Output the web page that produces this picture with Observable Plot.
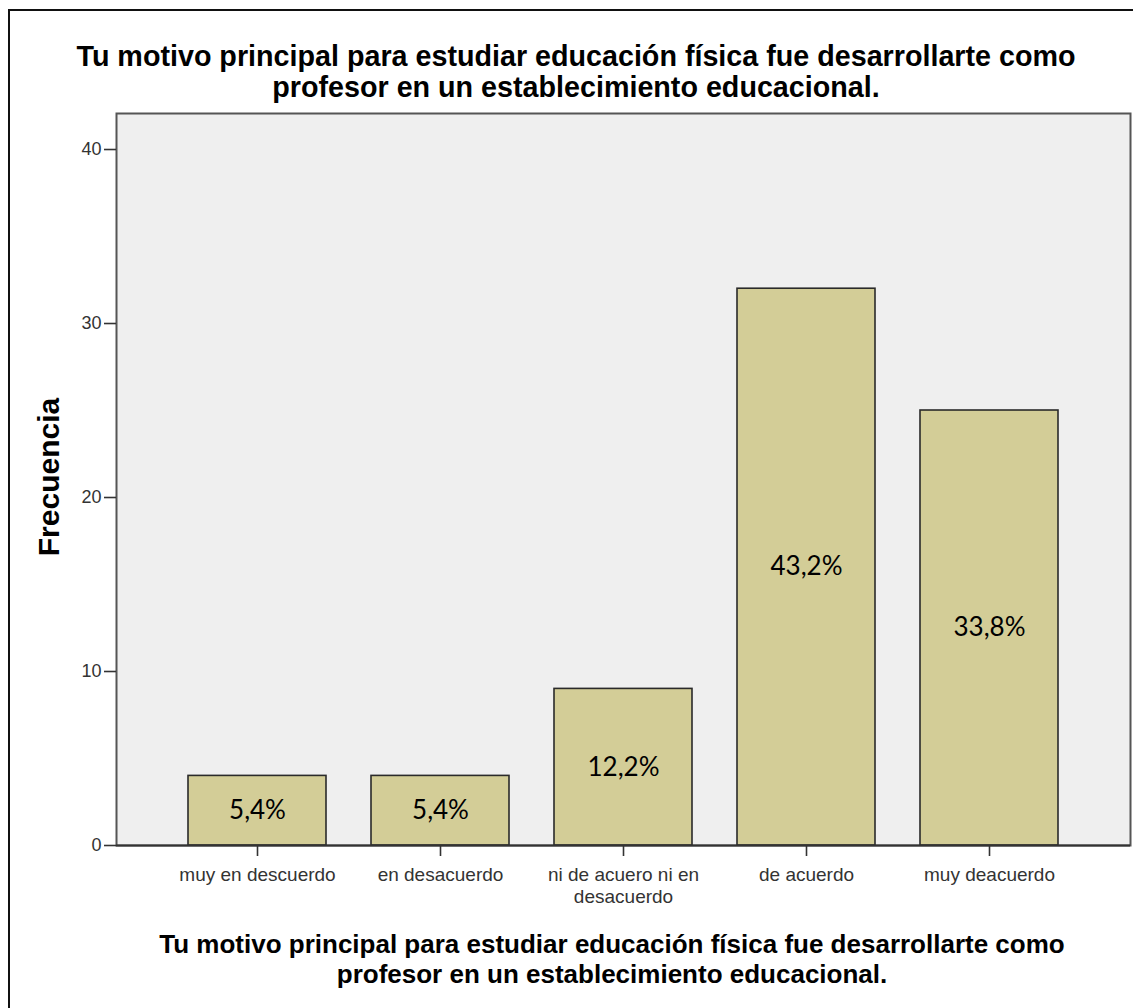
<!DOCTYPE html>
<html>
<head>
<meta charset="utf-8">
<script src="https://cdn.jsdelivr.net/npm/d3@7"></script>
<script src="https://cdn.jsdelivr.net/npm/@observablehq/plot@0.6"></script>
<style>
  html, body { margin: 0; padding: 0; background: #fff; overflow: hidden; }
  body { width: 1133px; height: 1008px; position: relative; }
  #frame { position: absolute; left: 8px; top: 9px; width: 2000px; height: 2000px; border: 2px solid #111; box-sizing: border-box; }
  #chart { position: absolute; left: 0; top: 0; }
  .title { position: absolute; text-align: center; font-family: "Liberation Sans", Arial, sans-serif; font-weight: bold; color: #000; white-space: nowrap; }
  #title { left: 0; width: 1152px; top: 41px; font-size: 28.7px; line-height: 31px; }
  #xtitle { left: 0; width: 1224px; top: 929px; font-size: 26px; line-height: 30px; }
  #ytitle { position: absolute; left: 49px; top: 477px; transform: translate(-50%, -50%) rotate(-90deg); font-family: "Liberation Sans", Arial, sans-serif; font-weight: bold; font-size: 30px; white-space: nowrap; color: #000; }
</style>
</head>
<body>
<div id="frame"></div>
<div id="chart"></div>
<div id="title" class="title"></div>
<div id="xtitle" class="title"></div>
<div id="ytitle"></div>
<script>
const titleLines = ["Tu motivo principal para estudiar educación física fue desarrollarte como", "profesor en un establecimiento educacional."];
const yLabel = "Frecuencia";
const categories = ["muy en descuerdo", "en desacuerdo", "ni de acuero ni en desacuerdo", "de acuerdo", "muy deacuerdo"];
const tickLabels = ["muy en descuerdo", "en desacuerdo", "ni de acuero ni en\ndesacuerdo", "de acuerdo", "muy deacuerdo"];
const frequencies = [4, 4, 9, 32, 25];
const percentLabels = ["5,4%", "5,4%", "12,2%", "43,2%", "33,8%"];
const yTicks = [0, 10, 20, 30, 40];
const yMax = 42.07;

const data = categories.map((c, i) => ({cat: c, freq: frequencies[i], pct: percentLabels[i]}));
const labelOf = new Map(categories.map((c, i) => [c, tickLabels[i]]));

document.getElementById("title").innerHTML = titleLines.join("<br>");
document.getElementById("xtitle").innerHTML = titleLines.join("<br>");
document.getElementById("ytitle").textContent = yLabel;

const chart = Plot.plot({
  width: 1133,
  height: 1008,
  marginLeft: 116,
  marginRight: 3,
  marginTop: 113,
  marginBottom: 163,
  style: {fontFamily: "'Liberation Sans', Arial, sans-serif", fontSize: "18px", color: "#333", background: "transparent", overflow: "visible"},
  x: {domain: categories, paddingInner: 0.246, paddingOuter: 0.393, label: null},
  y: {domain: [0, yMax], label: null},
  marks: [
    Plot.frame({fill: "#efefef", stroke: "#555", strokeWidth: 2}),
    Plot.barY(data, {x: "cat", y: "freq", fill: "#d3cd97", stroke: "#2a2a2a", strokeWidth: 1.6}),
    Plot.text(data, {x: "cat", y: d => d.freq / 2, text: "pct", fontFamily: "Lato, 'Open Sans', sans-serif", fontSize: 26, fill: "#000"}),
    Plot.axisY({ticks: yTicks, tickSize: 12, tickPadding: 3, stroke: "#333", strokeWidth: 1.6, fontSize: 18, fill: "#333", label: null}),
    Plot.axisX({tickSize: 11, tickPadding: 9, stroke: "#333", strokeWidth: 1.6, fontSize: 19, lineHeight: 1.15, fill: "#333", tickFormat: d => labelOf.get(d), label: null}),
    Plot.ruleX([0], {stroke: "#333", strokeWidth: 2}),
    Plot.ruleY([0], {stroke: "#333", strokeWidth: 2})
  ]
});
document.getElementById("chart").appendChild(chart);
</script>
</body>
</html>
